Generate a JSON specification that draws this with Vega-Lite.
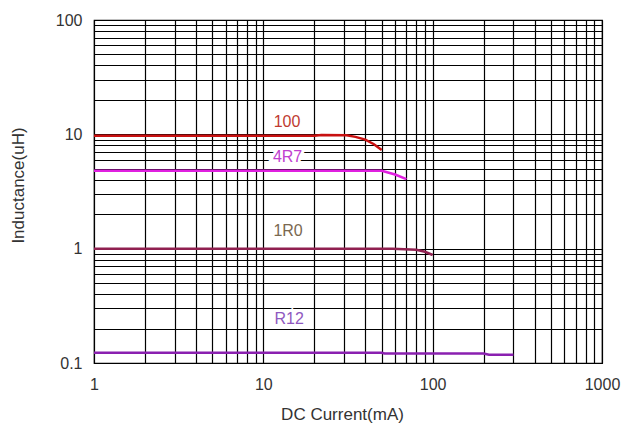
{
  "$schema": "https://vega.github.io/schema/vega-lite/v6.json",
  "width": 508,
  "height": 343,
  "autosize": {"type": "none"},
  "padding": {"left": 94, "top": 20, "right": 21, "bottom": 60},
  "background": "white",
  "config": {"view": {"stroke": "#000", "strokeWidth": 1.2}, "font": "Liberation Sans"},
  "datasets": {
    "curves": [
      {"series": "100", "current": 1, "inductance": 9.7},
      {"series": "100", "current": 20, "inductance": 9.7},
      {"series": "100", "current": 22, "inductance": 9.85},
      {"series": "100", "current": 31, "inductance": 9.8},
      {"series": "100", "current": 35, "inductance": 9.5},
      {"series": "100", "current": 40, "inductance": 9.0},
      {"series": "100", "current": 45, "inductance": 8.2},
      {"series": "100", "current": 50, "inductance": 7.3},
      {"series": "4R7", "current": 1, "inductance": 4.8},
      {"series": "4R7", "current": 50, "inductance": 4.8},
      {"series": "4R7", "current": 60, "inductance": 4.45},
      {"series": "4R7", "current": 70, "inductance": 4.05},
      {"series": "1R0", "current": 1, "inductance": 1.0},
      {"series": "1R0", "current": 58, "inductance": 1.0},
      {"series": "1R0", "current": 80, "inductance": 0.98},
      {"series": "1R0", "current": 90, "inductance": 0.94},
      {"series": "1R0", "current": 100, "inductance": 0.88},
      {"series": "R12", "current": 1, "inductance": 0.123},
      {"series": "R12", "current": 50, "inductance": 0.123},
      {"series": "R12", "current": 52, "inductance": 0.121},
      {"series": "R12", "current": 200, "inductance": 0.121},
      {"series": "R12", "current": 215, "inductance": 0.118},
      {"series": "R12", "current": 300, "inductance": 0.118}
    ],
    "labels": [
      {"series": "100", "current": 13.8, "inductance": 12.9},
      {"series": "4R7", "current": 13.9, "inductance": 6.3},
      {"series": "1R0", "current": 14.0, "inductance": 1.43},
      {"series": "R12", "current": 14.2, "inductance": 0.245}
    ]
  },
  "layer": [
    {
      "data": {"name": "curves"},
      "mark": {"type": "line", "strokeWidth": 2.5, "clip": true},
      "encoding": {
        "x": {
          "field": "current",
          "type": "quantitative",
          "scale": {"type": "log", "domain": [1, 1000], "nice": false},
          "axis": {
            "values": [1, 2, 3, 4, 5, 6, 7, 8, 9, 10, 20, 30, 40, 50, 60, 70, 80, 90, 100, 200, 300, 400, 500, 600, 700, 800, 900, 1000],
            "format": "~g",
            "labelExpr": "indexof([1,10,100,1000], datum.value) >= 0 ? datum.label : ''",
            "grid": true,
            "gridColor": "#000",
            "gridWidth": 1.2,
            "gridOpacity": 1,
            "ticks": false,
            "tickSize": 0,
            "domain": false,
            "labelFontSize": 16,
            "labelColor": "#333",
            "labelPadding": 13,
            "labelFlush": false,
            "labelOverlap": false,
            "title": "DC Current(mA)",
            "titleFontSize": 17,
            "titleFontWeight": "normal",
            "titleColor": "#333",
            "titleX": 248,
            "titleY": 51,
            "titleBaseline": "middle"
          }
        },
        "y": {
          "field": "inductance",
          "type": "quantitative",
          "scale": {"type": "log", "domain": [0.1, 100], "nice": false},
          "axis": {
            "values": [0.1, 0.2, 0.3, 0.4, 0.5, 0.6, 0.7, 0.8, 0.9, 1, 2, 3, 4, 5, 6, 7, 8, 9, 10, 20, 30, 40, 50, 60, 70, 80, 90, 100],
            "format": "~g",
            "labelExpr": "indexof([0.1,1,10,100], datum.value) >= 0 ? datum.label : ''",
            "grid": true,
            "gridColor": "#000",
            "gridWidth": 1.2,
            "gridOpacity": 1,
            "ticks": false,
            "tickSize": 0,
            "domain": false,
            "labelFontSize": 16,
            "labelColor": "#333",
            "labelPadding": 12,
            "labelFlush": false,
            "labelOverlap": false,
            "labelBaseline": "middle",
            "title": "Inductance(uH)",
            "titleFontSize": 17,
            "titleFontWeight": "normal",
            "titleColor": "#333",
            "titleX": -76,
            "titleY": 165,
            "titleBaseline": "middle",
            "titleAlign": "center"
          }
        },
        "color": {
          "field": "series",
          "type": "nominal",
          "scale": {"domain": ["100", "4R7", "1R0", "R12"], "range": ["#c81010", "#e020e0", "#902050", "#8a20b0"]},
          "legend": null
        }
      }
    },
    {
      "data": {"name": "labels"},
      "mark": {"type": "text", "fontSize": 16, "fill": "white", "stroke": "white", "strokeWidth": 6, "baseline": "middle", "align": "center"},
      "encoding": {
        "x": {"field": "current", "type": "quantitative"},
        "y": {"field": "inductance", "type": "quantitative"},
        "text": {"field": "series"}
      }
    },
    {
      "data": {"name": "labels"},
      "mark": {"type": "text", "fontSize": 16, "baseline": "middle", "align": "center"},
      "encoding": {
        "x": {"field": "current", "type": "quantitative"},
        "y": {"field": "inductance", "type": "quantitative"},
        "text": {"field": "series"},
        "color": {
          "field": "series",
          "type": "nominal",
          "scale": {"domain": ["100", "4R7", "1R0", "R12"], "range": ["#c03a30", "#c040d0", "#7a6850", "#9058c0"]},
          "legend": null
        }
      }
    }
  ],
  "resolve": {"scale": {"color": "independent"}}
}
